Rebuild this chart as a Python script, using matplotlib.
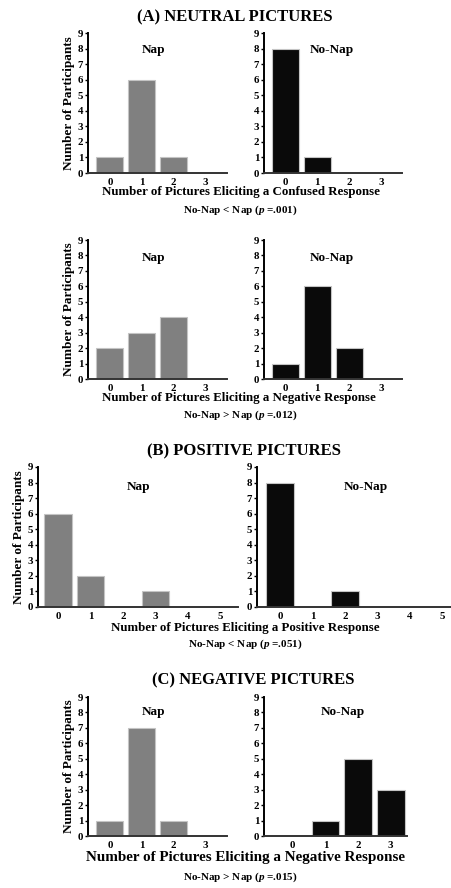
import matplotlib
matplotlib.use('Agg')

import matplotlib.pyplot as plt
import numpy as np

plt.rcParams['font.family'] = ['Liberation Serif', 'DejaVu Serif']
plt.rcParams['font.weight'] = 'bold'
plt.rcParams['mathtext.fontset'] = 'custom'
plt.rcParams['mathtext.rm'] = 'Liberation Serif:bold'
plt.rcParams['mathtext.it'] = 'Liberation Serif:italic:bold'
plt.rcParams['mathtext.bf'] = 'Liberation Serif:bold'

# data: number of participants per count of pictures
neutral_confused_nap = [1, 6, 1, 0]
neutral_confused_nonap = [8, 1, 0, 0]
neutral_negative_nap = [2, 3, 4, 0]
neutral_negative_nonap = [1, 6, 2, 0]
positive_nap = [6, 2, 0, 1, 0, 0]
positive_nonap = [8, 0, 1, 0, 0, 0]
negative_nap = [1, 7, 1, 0]
negative_nonap = [0, 1, 5, 3]

cats4 = ['0', '1', '2', '3']
cats6 = ['0', '1', '2', '3', '4', '5']

c_nap = "#808080"
c_nonap = "#0a0a0a"
c_edge = "#c4c4c4"

W, H = 452, 888
fig = plt.figure(figsize=(W / 100, H / 100), dpi=100)


def box(x0, y0, x1, y1):
    # pixel box (top-left origin) -> figure fraction rect
    return [x0 / W, 1 - y1 / H, (x1 - x0) / W, (y1 - y0) / H]


def panel(rect, values, cats, color, label, lab_xy, xlim, ylabel=False):
    ax = fig.add_axes(box(*rect))
    x = np.arange(len(cats))
    ax.bar(x, values, width=0.85, color=color, edgecolor=c_edge, linewidth=0.8)
    ax.set_xlim(*xlim)
    ax.set_ylim(0, 9)
    ax.set_yticks(range(10))
    ax.set_xticks(x)
    ax.set_xticklabels(cats)
    for s in ['top', 'right']:
        ax.spines[s].set_visible(False)
    ax.spines['left'].set_linewidth(1.4)
    ax.spines['bottom'].set_linewidth(1.4)
    ax.spines['bottom'].set_color('#333333')
    ax.tick_params(axis='y', length=2.5, width=1, pad=1, labelsize=7.8)
    ax.tick_params(axis='x', length=0, pad=3.5, labelsize=7.8)
    ax.text(lab_xy[0], lab_xy[1], label, transform=ax.transAxes,
            ha='center', va='center', fontsize=9.5, fontweight='bold')
    if ylabel:
        ax.set_ylabel('Number of Participants', fontsize=9.5,
                      fontweight='bold', labelpad=2)
    return ax


def ftext(x, y, s, size):
    fig.text(x / W, 1 - y / H, s, ha='center', va='center',
             fontsize=size, fontweight='bold')


x4l = (-0.69, 3.69)
x4r = (-0.67, 3.65)

# (A) neutral, confused
ftext(235, 17, '(A) NEUTRAL PICTURES', 12)
panel((88, 33, 227, 173), neutral_confused_nap, cats4, c_nap, 'Nap',
      (0.47, 0.88), x4l, ylabel=True)
panel((264, 33, 402, 173), neutral_confused_nonap, cats4, c_nonap, 'No-Nap',
      (0.49, 0.88), x4r)
ftext(241, 192, 'Number of Pictures Eliciting a Confused Response', 9.3)
ftext(240, 210, 'No-Nap < Nap ($p$ =.001)', 8)

# (A) neutral, negative
panel((88, 240, 227, 379), neutral_negative_nap, cats4, c_nap, 'Nap',
      (0.47, 0.87), x4l, ylabel=True)
panel((264, 240, 402, 379), neutral_negative_nonap, cats4, c_nonap, 'No-Nap',
      (0.49, 0.87), x4r)
ftext(239, 398, 'Number of Pictures Eliciting a Negative Response', 9.3)
ftext(240, 415, 'No-Nap > Nap ($p$ =.012)', 8)

# (B) positive
ftext(244, 451, '(B) POSITIVE PICTURES', 12)
panel((38, 467, 238, 607), positive_nap, cats6, c_nap, 'Nap',
      (0.5, 0.86), (-0.62, 5.55), ylabel=True)
panel((257, 467, 452, 607), positive_nonap, cats6, c_nonap, 'No-Nap',
      (0.56, 0.86), (-0.71, 5.3))
ftext(245, 628, 'Number of Pictures Eliciting a Positive Response', 9.3)
ftext(245, 644, 'No-Nap < Nap ($p$ =.051)', 8)

# (C) negative
ftext(253, 680, '(C) NEGATIVE PICTURES', 12)
panel((88, 697, 227, 836), negative_nap, cats4, c_nap, 'Nap',
      (0.47, 0.89), x4l, ylabel=True)
panel((264, 697, 407, 836), negative_nonap, cats4, c_nonap, 'No-Nap',
      (0.55, 0.89), (-0.88, 3.5))
ftext(246, 857, 'Number of Pictures Eliciting a Negative Response', 10.9)
ftext(240, 877, 'No-Nap > Nap ($p$ =.015)', 8)

fig.savefig('out.png', dpi=100)
